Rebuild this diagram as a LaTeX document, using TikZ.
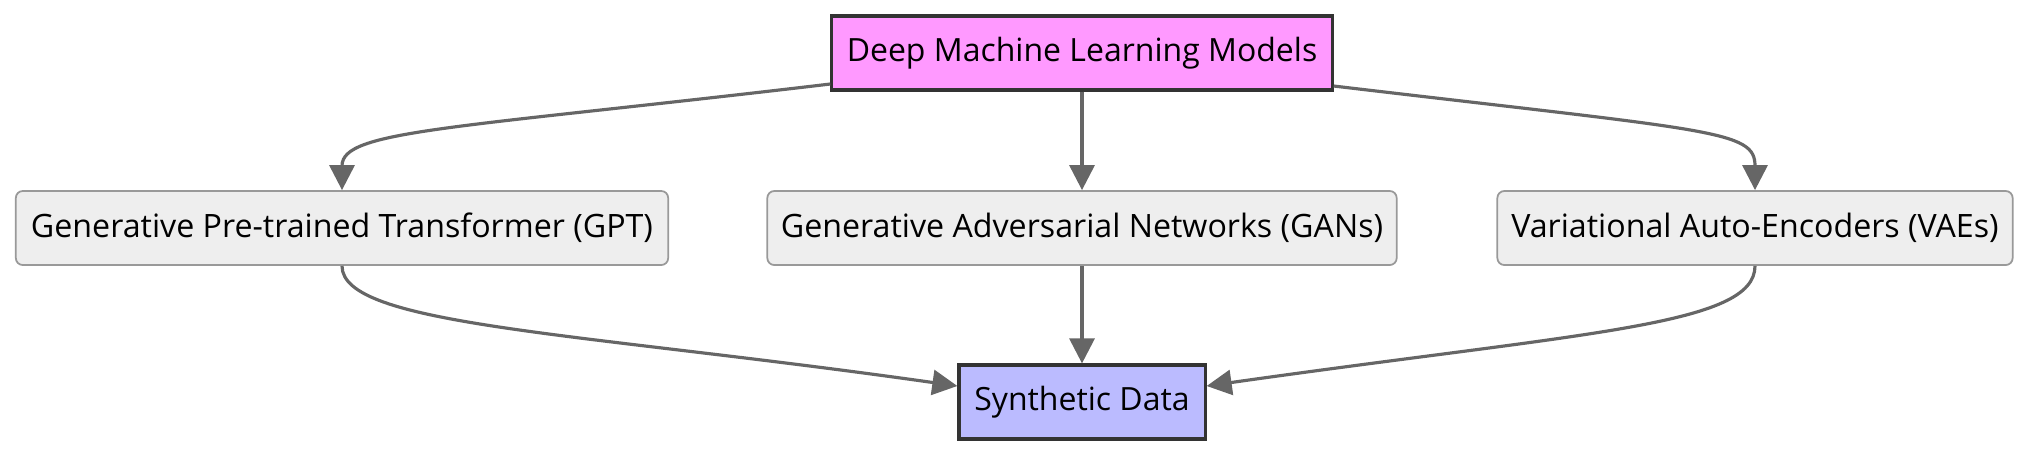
\documentclass[tikz,border=0pt]{standalone}
\usepackage{fontspec}
\setmainfont{Open Sans}
\usepackage{tikz}
\usetikzlibrary{arrows.meta}
\definecolor{modelpink}{HTML}{FF99FF}
\definecolor{datablue}{HTML}{BBBBFF}
\definecolor{methodfill}{HTML}{EEEEEE}
\definecolor{methodline}{HTML}{999999}
\definecolor{darkline}{HTML}{333333}
\definecolor{linkgray}{HTML}{666666}

\begin{document}
\begin{tikzpicture}[x=0.01cm,y=0.01cm,
  method/.style={draw=methodline,fill=methodfill,line width=0.5pt,rounded corners=0.07cm,
    minimum height=0.74cm,inner sep=0pt,font=\fontsize{9.15}{10}\selectfont},
  keybox/.style={draw=darkline,line width=0.9pt,minimum height=0.74cm,inner sep=0pt,
    font=\fontsize{9.1}{10}\selectfont},
  link/.style={draw=linkgray,line width=0.9pt,-{Triangle[length=0.25cm,width=0.25cm]}}]
\useasboundingbox (0,0) rectangle (2030,-454);
\node[keybox,fill=modelpink,minimum width=5cm] (dml) at (1082,-53) {Deep Machine Learning Models};
\node[method,minimum width=6.52cm] (gpt) at (342,-228) {Generative Pre-trained Transformer (GPT)};
\node[method,minimum width=6.29cm] (gan) at (1082,-228) {Generative Adversarial Networks (GANs)};
\node[method,minimum width=5.15cm] (vae) at (1755,-228) {Variational Auto-Encoders (VAEs)};
\node[keybox,fill=datablue,minimum width=2.46cm] (sd) at (1082,-402) {Synthetic Data};
% models to methods
\draw[link] ([yshift=-0.31cm]dml.west) .. controls +(-380,-45) and +(0,60) .. (gpt.north);
\draw[link] (dml) -- (gan);
\draw[link] ([yshift=-0.33cm]dml.east) .. controls +(380,-45) and +(0,60) .. (vae.north);
% methods to data
\draw[link] (gpt.south) .. controls +(0,-60) and +(-380,54) .. ([yshift=0.16cm]sd.west);
\draw[link] (gan) -- (sd);
\draw[link] (vae.south) .. controls +(0,-60) and +(380,54) .. ([yshift=0.16cm]sd.east);
\end{tikzpicture}
\end{document}
